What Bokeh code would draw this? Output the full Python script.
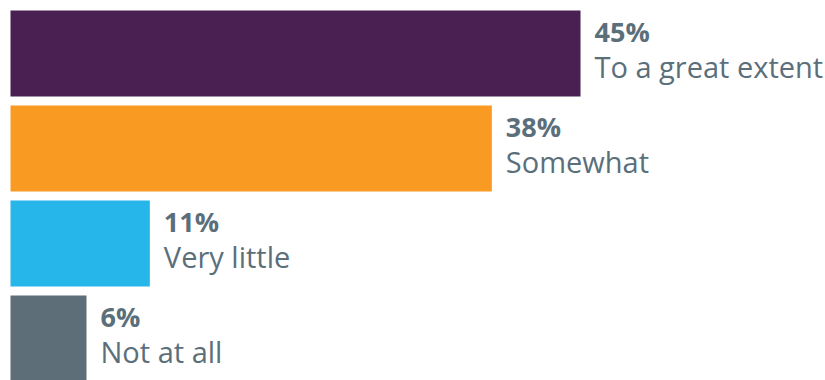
from bokeh.plotting import figure
from bokeh.models import Range1d, ColumnDataSource
from bokeh.core.properties import value
from bokeh.embed import file_html
from bokeh.resources import INLINE

categories = ["To a great extent", "Somewhat", "Very little", "Not at all"]
values = [45, 38, 11, 6]
colors = ["#4a2053", "#f99a22", "#27b6e9", "#5d6e78"]

idx = list(range(len(categories)))
pct = [f"{v}%" for v in values]
src = ColumnDataSource(dict(y=idx, v=values, c=colors, cat=categories, pct=pct))

p = figure(width=825, height=380, output_backend="svg", toolbar_location=None,
           x_range=Range1d(-10 / 12.667, 815 / 12.667),
           y_range=Range1d(3.442, -0.558), min_border=0)
p.axis.visible = False
p.grid.visible = False
p.outline_line_color = None
p.background_fill_color = "white"

p.hbar(y="y", left=0, right="v", height=0.905, fill_color="c", line_color=None, source=src)

p.text(x="v", y="y", text="pct", source=src, x_offset=14, y_offset=-22,
       text_font=value("Open Sans"), text_font_style="bold", text_font_size="27px",
       text_color="#5b6f7b", text_baseline="alphabetic", text_align="left")
p.text(x="v", y="y", text="cat", source=src, x_offset=14, y_offset=13,
       text_font=value("Open Sans"), text_font_size="29px",
       text_color="#5b6f7b", text_baseline="alphabetic", text_align="left")

open("out.html", "w").write(file_html(p, INLINE))
